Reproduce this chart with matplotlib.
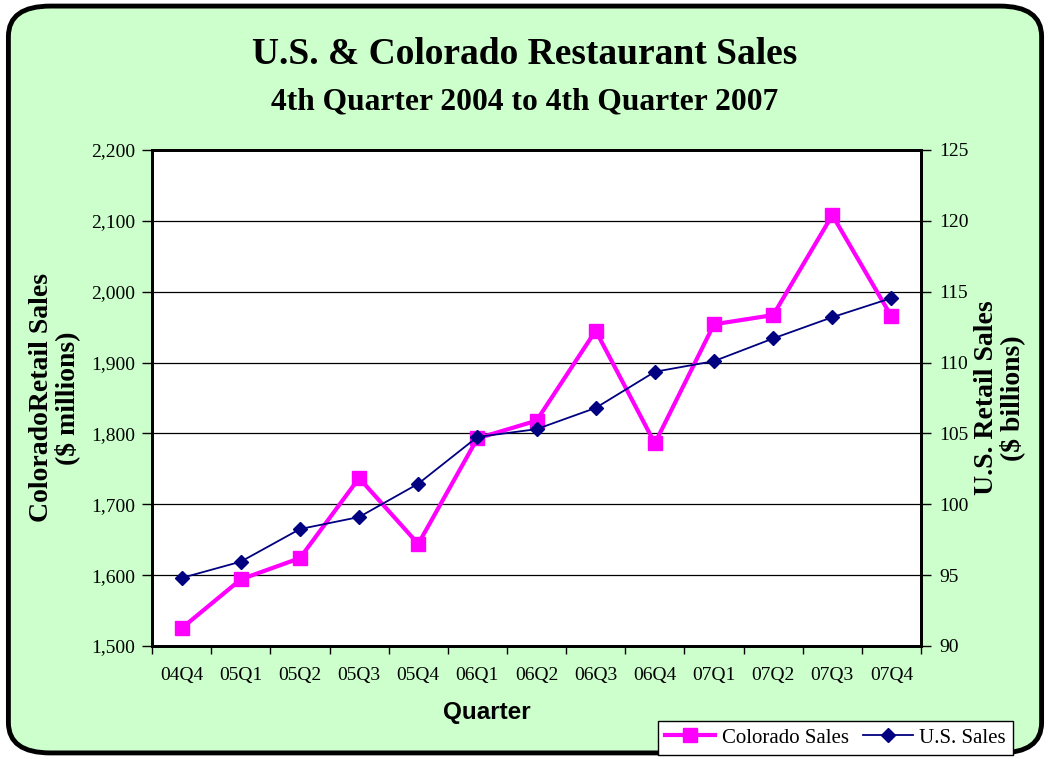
import matplotlib
matplotlib.use("Agg")
import matplotlib.pyplot as plt
from matplotlib.patches import FancyBboxPatch
from matplotlib.ticker import FuncFormatter, FixedLocator

quarters = ["04Q4", "05Q1", "05Q2", "05Q3", "05Q4", "06Q1", "06Q2",
            "06Q3", "06Q4", "07Q1", "07Q2", "07Q3", "07Q4"]
colorado_sales = [1525, 1594, 1624, 1737, 1644, 1793, 1818,
                  1945, 1786, 1954, 1967, 2108, 1965]
us_sales = [94.8, 95.95, 98.25, 99.1, 101.45, 104.75, 105.3,
            106.8, 109.35, 110.1, 111.7, 113.2, 114.55]

serif = "Liberation Serif"
bg = "#CCFFCC"

fig = plt.figure(figsize=(10.5, 7.59), dpi=100)
fig.patch.set_facecolor("white")

# rounded green frame behind everything
frame = FancyBboxPatch((0.008, 0.008), 0.984, 0.984,
                       boxstyle="round,pad=0,rounding_size=0.04",
                       transform=fig.transFigure, facecolor=bg,
                       edgecolor="black", linewidth=3.5, zorder=-10)
fig.patches.append(frame)

ax = fig.add_axes([0.1448, 0.1489, 0.7324, 0.6535])
ax.set_facecolor("white")
x = list(range(len(quarters)))

ax.set_ylim(1500, 2200)
ax.set_xlim(-0.5, len(quarters) - 0.5)
ax.set_yticks(range(1500, 2201, 100))
ax.yaxis.set_major_formatter(FuncFormatter(lambda v, p: f"{int(v):,}"))
ax.grid(axis="y", color="black", linewidth=0.9)
ax.set_axisbelow(True)

ax.set_xticks(x)
ax.set_xticklabels(quarters, fontfamily=serif, fontsize=14)
ax.xaxis.set_minor_locator(FixedLocator([i - 0.5 for i in range(len(quarters) + 1)]))
ax.tick_params(axis="x", which="major", length=0, pad=15)
ax.tick_params(axis="x", which="minor", length=6, direction="out", width=1)
ax.tick_params(axis="y", length=7, direction="out", width=1, pad=5)
for lbl in ax.get_yticklabels():
    lbl.set_fontfamily(serif)
    lbl.set_fontsize(14)
for s in ax.spines.values():
    s.set_linewidth(2)

ax2 = ax.twinx()
ax2.set_ylim(90, 125)
ax2.set_yticks(range(90, 126, 5))
ax2.tick_params(axis="y", length=7, direction="out", width=1, pad=6)
for lbl in ax2.get_yticklabels():
    lbl.set_fontfamily(serif)
    lbl.set_fontsize(14)
for s in ax2.spines.values():
    s.set_linewidth(2)

l1, = ax.plot(x, colorado_sales, color="#FF00FF", linewidth=3,
              marker="s", markersize=10, label="Colorado Sales", zorder=3)
l2, = ax2.plot(x, us_sales, color="#000080", linewidth=1.3,
               marker="D", markersize=7, label="U.S. Sales", zorder=4)

ax.set_ylabel("ColoradoRetail Sales\n($ millions)", fontfamily=serif,
              fontsize=20, fontweight="bold", labelpad=8, linespacing=1.0)
ax2.set_ylabel("U.S. Retail Sales\n($ billions)", fontfamily=serif,
               fontsize=20, fontweight="bold", labelpad=4, linespacing=1.0)

fig.text(487 / 1050, 1 - 712 / 759, "Quarter", ha="center", va="center",
         fontfamily="Liberation Sans", fontsize=17.5, fontweight="bold")

fig.text(0.5, 0.928, "U.S. & Colorado Restaurant Sales", ha="center",
         va="center", fontfamily=serif, fontsize=27, fontweight="bold")
fig.text(0.5, 0.866, "4th Quarter 2004 to 4th Quarter 2007", ha="center",
         va="center", fontfamily=serif, fontsize=22.7, fontweight="bold")

leg = fig.legend(handles=[l1, l2], loc="lower right",
                 bbox_to_anchor=(0.971, -0.003), ncol=2, frameon=True,
                 fancybox=False, edgecolor="black", framealpha=1,
                 prop={"family": serif, "size": 15}, handlelength=2.4,
                 columnspacing=0.7, handletextpad=0.3, borderpad=0.35,
                 borderaxespad=0.3)
leg.get_frame().set_linewidth(1)

fig.savefig("out.png", dpi=100)
